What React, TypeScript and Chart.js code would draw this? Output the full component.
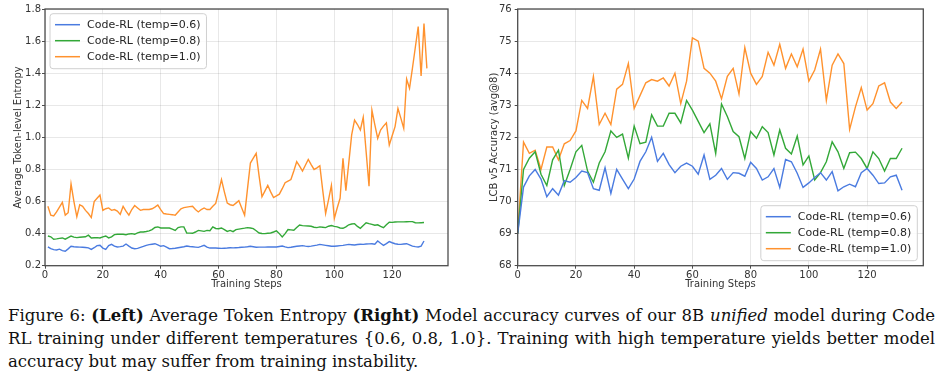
import React, { useEffect, useRef } from 'react';
import { Chart, registerables } from 'chart.js';

Chart.register(...registerables);

// ---------- data ----------
const seriesLabels = ['Code-RL (temp=0.6)', 'Code-RL (temp=0.8)', 'Code-RL (temp=1.0)'];
const seriesColors = ['#4a7be0', '#33a838', '#ff922e'];

// Left panel: training steps 1..132
const leftSteps = Array.from({ length: 132 }, (_, i) => i + 1);
const leftXTicks = [0, 20, 40, 60, 80, 100, 120];
const leftYTicks = [0.2, 0.4, 0.6, 0.8, 1.0, 1.2, 1.4, 1.6, 1.8];

const leftBlue = [
  0.317, 0.306, 0.3, 0.298, 0.303, 0.294, 0.29, 0.305, 0.321, 0.318,
  0.317, 0.316, 0.315, 0.313, 0.311, 0.302, 0.312, 0.325, 0.327, 0.31,
  0.302, 0.325, 0.333, 0.322, 0.317, 0.319, 0.322, 0.335, 0.322, 0.31,
  0.306, 0.308, 0.314, 0.32, 0.327, 0.331, 0.334, 0.337, 0.33, 0.321,
  0.325, 0.316, 0.306, 0.307, 0.309, 0.312, 0.315, 0.318, 0.323, 0.32,
  0.318, 0.316, 0.314, 0.32, 0.327, 0.316, 0.31, 0.311, 0.31, 0.309,
  0.308, 0.309, 0.31, 0.312, 0.311, 0.312, 0.313, 0.315, 0.316, 0.318,
  0.321, 0.318, 0.315, 0.316, 0.316, 0.316, 0.317, 0.317, 0.317, 0.317,
  0.32, 0.323, 0.317, 0.3125, 0.315, 0.318, 0.321, 0.323, 0.325, 0.322,
  0.32, 0.322, 0.325, 0.328, 0.333, 0.33, 0.327, 0.324, 0.321, 0.321,
  0.323, 0.325, 0.327, 0.33, 0.333, 0.331, 0.329, 0.332, 0.334, 0.333,
  0.335, 0.336, 0.337, 0.334, 0.354, 0.34, 0.327, 0.338, 0.35, 0.343,
  0.337, 0.334, 0.333, 0.335, 0.337, 0.33, 0.322, 0.319, 0.317, 0.322,
  0.354,
];

const leftGreen = [
  0.385, 0.38, 0.365, 0.367, 0.37, 0.373, 0.365, 0.375, 0.385, 0.378,
  0.375, 0.377, 0.379, 0.38, 0.39, 0.373, 0.374, 0.375, 0.373, 0.38,
  0.385, 0.373, 0.38, 0.394, 0.396, 0.396, 0.396, 0.393, 0.398, 0.4,
  0.396, 0.405, 0.41, 0.41, 0.413, 0.417, 0.425, 0.438, 0.442, 0.435,
  0.435, 0.435, 0.435, 0.428, 0.42, 0.438, 0.442, 0.442, 0.404, 0.403,
  0.402, 0.41, 0.42, 0.417, 0.414, 0.42, 0.418, 0.442, 0.432, 0.43,
  0.435, 0.425, 0.414, 0.42, 0.412, 0.425, 0.428, 0.431, 0.434, 0.4375,
  0.435, 0.431, 0.418, 0.404, 0.401, 0.4, 0.402, 0.404, 0.41, 0.417,
  0.4, 0.379, 0.4, 0.425, 0.423, 0.421, 0.438, 0.454, 0.45, 0.448,
  0.447, 0.446, 0.44, 0.4375, 0.442, 0.44, 0.4375, 0.446, 0.45, 0.445,
  0.442, 0.435, 0.433, 0.442, 0.455, 0.46, 0.462, 0.445, 0.433, 0.45,
  0.467, 0.462, 0.458, 0.452, 0.455, 0.445, 0.437, 0.455, 0.471, 0.47,
  0.472, 0.473, 0.473, 0.473, 0.474, 0.475, 0.475, 0.468, 0.467, 0.468,
  0.469,
];

const leftOrange = [
  0.57, 0.515, 0.51, 0.535, 0.565, 0.595, 0.515, 0.53, 0.71, 0.6,
  0.505, 0.58, 0.57, 0.545, 0.525, 0.5, 0.6, 0.62, 0.64, 0.545,
  0.555, 0.56, 0.545, 0.55, 0.54, 0.52, 0.57, 0.54, 0.515, 0.55,
  0.575, 0.56, 0.545, 0.55, 0.55, 0.55, 0.555, 0.565, 0.578, 0.55,
  0.525, 0.522, 0.52, 0.518, 0.515, 0.535, 0.555, 0.562, 0.565, 0.568,
  0.57, 0.55, 0.535, 0.55, 0.56, 0.55, 0.55, 0.57, 0.588, 0.66,
  0.737, 0.66, 0.59, 0.58, 0.575, 0.59, 0.605, 0.56, 0.515, 0.68,
  0.84, 0.87, 0.9, 0.76, 0.63, 0.665, 0.7, 0.66, 0.625, 0.635,
  0.646, 0.68, 0.717, 0.727, 0.737, 0.79, 0.848, 0.82, 0.79, 0.826,
  0.862, 0.83, 0.8, 0.81, 0.823, 0.67, 0.525, 0.61, 0.7, 0.494,
  0.56, 0.62, 0.87, 0.667, 0.84, 1.015, 1.108, 1.08, 1.046, 1.125,
  0.91, 0.696, 1.17, 1.08, 0.994, 1.046, 1.07, 1.09, 0.952, 1.01,
  1.067, 1.18, 1.12, 1.056, 1.363, 1.306, 1.43, 1.56, 1.69, 1.383,
  1.71, 1.43,
];

// Right panel: training steps 0..132 every 2
const rightSteps = Array.from({ length: 67 }, (_, i) => i * 2);
const rightXTicks = [0, 20, 40, 60, 80, 100, 120];
const rightYTicks = [68, 69, 70, 71, 72, 73, 74, 75, 76];

const rightBlue = [
  69.0, 70.45, 70.8, 71.0, 70.7, 70.15, 70.4, 70.2, 70.65, 70.6,
  70.75, 70.95, 70.9, 70.4, 70.35, 71.05, 70.25, 71.0, 70.7, 70.4,
  70.7, 71.25, 71.55, 72.0, 71.25, 71.5, 71.15, 70.9, 71.1, 71.2,
  71.1, 70.85, 71.45, 70.69, 70.82, 71.03, 70.69, 70.9, 70.88, 70.79,
  71.22, 71.03, 70.67, 70.77, 71.03, 70.44, 71.31, 71.24, 70.88, 70.44,
  70.58, 70.75, 70.9, 70.67, 70.93, 70.33, 70.46, 70.54, 70.46, 70.9,
  71.03, 70.82, 70.56, 70.58, 70.77, 70.82, 70.35,
];

const rightGreen = [
  69.0, 71.0, 71.35, 71.55, 70.85, 70.5, 71.3, 71.6, 70.5, 71.0,
  71.55, 71.75, 70.95, 70.6, 71.2, 71.55, 72.2, 72.0, 72.1, 71.35,
  72.35, 71.8, 71.85, 72.7, 72.35, 72.35, 72.75, 72.75, 72.45, 73.15,
  72.85, 72.5, 72.15, 72.42, 71.5, 73.04, 72.65, 72.18, 72.02, 71.34,
  72.18, 71.97, 72.33, 72.15, 71.45, 72.23, 71.66, 71.48, 72.04, 71.14,
  71.42, 70.67, 70.9, 71.24, 71.86, 71.55, 71.03, 71.52, 71.54, 71.34,
  71.03, 71.55, 71.34, 70.95, 71.34, 71.34, 71.66,
];

const rightOrange = [
  69.0, 71.85, 71.5, 71.6, 71.0, 71.7, 71.7, 71.3, 71.8, 71.9,
  72.2, 73.15, 72.9, 73.9, 72.4, 72.75, 72.4, 73.5, 73.65, 74.3,
  72.9, 73.3, 73.7, 73.8, 73.75, 73.85, 73.6, 74.0, 73.05, 73.75,
  75.1, 75.0, 74.15, 74.0, 73.75, 73.2, 73.9, 74.15, 73.35, 74.8,
  74.0, 73.65, 73.9, 74.65, 74.25, 74.9, 74.15, 74.6, 74.2, 74.75,
  73.75, 74.1, 74.75, 73.15, 74.25, 74.6, 74.3, 72.25, 72.95, 73.55,
  72.85, 73.05, 73.6, 73.7, 73.1, 72.9, 73.1,
];

// ---------- plugins ----------
const framePlugin = {
  id: 'frame',
  afterDatasetsDraw(chart: any) {
    const { ctx, chartArea: a } = chart;
    ctx.save();
    ctx.strokeStyle = '#4d4d4d';
    ctx.lineWidth = 1.3;
    ctx.strokeRect(a.left, a.top, a.right - a.left, a.bottom - a.top);
    ctx.restore();
  },
};

const insideLegendPlugin = {
  id: 'insideLegend',
  afterDraw(chart: any, _args: any, opts: any) {
    const { ctx, chartArea: a } = chart;
    const ds = chart.data.datasets;
    ctx.save();
    ctx.font = '11px "DejaVu Sans"';
    const lineLen = 25;
    const gap = 7;
    const padL = 5;
    const padR = 6;
    const rowH = 16;
    const boxH = 55;
    const textW = Math.max(...ds.map((d: any) => ctx.measureText(d.label).width));
    const boxW = padL + lineLen + gap + textW + padR;
    let x0: number;
    let y0: number;
    if (opts.corner === 'tl') {
      x0 = a.left + 5;
      y0 = a.top + 4.7;
    } else {
      x0 = a.right - 6 - boxW;
      y0 = a.bottom - 5 - boxH;
    }
    const r = 3;
    ctx.beginPath();
    ctx.moveTo(x0 + r, y0);
    ctx.lineTo(x0 + boxW - r, y0);
    ctx.arcTo(x0 + boxW, y0, x0 + boxW, y0 + r, r);
    ctx.lineTo(x0 + boxW, y0 + boxH - r);
    ctx.arcTo(x0 + boxW, y0 + boxH, x0 + boxW - r, y0 + boxH, r);
    ctx.lineTo(x0 + r, y0 + boxH);
    ctx.arcTo(x0, y0 + boxH, x0, y0 + boxH - r, r);
    ctx.lineTo(x0, y0 + r);
    ctx.arcTo(x0, y0, x0 + r, y0, r);
    ctx.closePath();
    ctx.fillStyle = 'rgba(255,255,255,0.82)';
    ctx.fill();
    ctx.strokeStyle = '#d0d0d0';
    ctx.lineWidth = 1;
    ctx.stroke();
    ds.forEach((d: any, i: number) => {
      const cy = y0 + 11 + i * rowH;
      ctx.beginPath();
      ctx.strokeStyle = d.borderColor;
      ctx.lineWidth = 1.5;
      ctx.moveTo(x0 + padL, cy);
      ctx.lineTo(x0 + padL + lineLen, cy);
      ctx.stroke();
      ctx.fillStyle = '#262626';
      ctx.textBaseline = 'middle';
      ctx.textAlign = 'left';
      ctx.fillText(d.label, x0 + padL + lineLen + gap, cy + 0.5);
    });
    ctx.restore();
  },
};

// ---------- chart builder ----------
type PanelSpec = {
  steps: number[][];
  values: number[][];
  yTicks: number[];
  xTicks: number[];
  yTitle: string;
  yDecimals: number;
  yWidth: number;
  yTitlePad: number;
  yLabelPad: number;
  padRight: number;
  corner: string;
};

function buildConfig(p: PanelSpec): any {
  const datasets = p.values.map((vals, i) => ({
    label: seriesLabels[i],
    data: vals.map((v, j) => ({ x: p.steps[i][j], y: v })),
    borderColor: seriesColors[i],
    backgroundColor: seriesColors[i],
    borderWidth: 1.4,
    pointRadius: 0,
    tension: 0,
    fill: false,
  }));
  const gridColor = 'rgba(0,0,0,0.09)';
  return {
    type: 'line',
    data: { datasets },
    options: {
      animation: false,
      responsive: false,
      maintainAspectRatio: false,
      layout: { padding: { left: 0, right: p.padRight, top: 9, bottom: 0 } },
      plugins: {
        legend: { display: false },
        tooltip: { enabled: false },
        insideLegend: { corner: p.corner },
      },
      scales: {
        x: {
          type: 'linear',
          min: 0,
          max: 139.3,
          afterBuildTicks: (scale: any) => {
            scale.ticks = p.xTicks.map((v) => ({ value: v }));
          },
          afterFit: (scale: any) => {
            scale.height = 24.3;
          },
          ticks: {
            color: '#333',
            font: { size: 10 },
            padding: 1,
            maxRotation: 0,
            autoSkip: false,
          },
          grid: { color: gridColor, tickColor: '#4d4d4d', tickLength: 3 },
          border: { display: false },
          title: {
            display: true,
            text: 'Training Steps',
            color: '#333',
            font: { size: 10 },
            padding: { top: 0, bottom: 0 },
          },
        },
        y: {
          type: 'linear',
          min: p.yTicks[0],
          max: p.yTicks[p.yTicks.length - 1],
          afterBuildTicks: (scale: any) => {
            scale.ticks = p.yTicks.map((v) => ({ value: v }));
          },
          afterFit: (scale: any) => {
            scale.width = p.yWidth;
          },
          ticks: {
            color: '#333',
            font: { size: 10 },
            padding: p.yLabelPad,
            autoSkip: false,
            callback: (v: number) => Number(v).toFixed(p.yDecimals),
          },
          grid: { color: gridColor, tickColor: '#4d4d4d', tickLength: 3 },
          border: { display: false },
          title: {
            display: true,
            text: p.yTitle,
            color: '#333',
            font: { size: 10 },
            padding: { top: p.yTitlePad, bottom: 0 },
          },
        },
      },
    },
    plugins: [framePlugin, insideLegendPlugin],
  };
}

function Panel({ spec, left }: { spec: PanelSpec; left: number }) {
  const ref = useRef<HTMLCanvasElement | null>(null);
  useEffect(() => {
    if (!ref.current) return;
    const chart = new Chart(ref.current, buildConfig(spec));
    return () => chart.destroy();
  }, [spec]);
  return (
    <canvas
      ref={ref}
      width={470}
      height={290}
      style={{ position: 'absolute', left, top: 0, width: 470, height: 290 }}
    />
  );
}

const leftSpec: PanelSpec = {
  steps: [leftSteps.slice(0, leftBlue.length), leftSteps.slice(0, leftGreen.length), leftSteps],
  values: [leftBlue, leftGreen, leftOrange],
  yTicks: leftYTicks,
  xTicks: leftXTicks,
  yTitle: 'Average Token-level Entropy',
  yDecimals: 1,
  yWidth: 45,
  yTitlePad: 12.5,
  yLabelPad: 1,
  padRight: 22,
  corner: 'tl',
};

const rightSpec: PanelSpec = {
  steps: [rightSteps, rightSteps, rightSteps],
  values: [rightBlue, rightGreen, rightOrange],
  yTicks: rightYTicks,
  xTicks: rightXTicks,
  yTitle: 'LCB v5 Accuracy (avg@8)',
  yDecimals: 0,
  yWidth: 47.7,
  yTitlePad: 18,
  yLabelPad: 3,
  padRight: 16.7,
  corner: 'br',
};

Chart.defaults.font.family = '"DejaVu Sans", sans-serif';

export default function App() {
  const lineStyle: React.CSSProperties = {
    whiteSpace: 'nowrap',
    height: 23,
    lineHeight: '23px',
  };
  return (
    <div
      style={{
        position: 'absolute',
        left: 0,
        top: 0,
        width: 940,
        height: 388,
        background: '#ffffff',
        overflow: 'hidden',
      }}
    >
      <Panel spec={leftSpec} left={0} />
      <Panel spec={rightSpec} left={470} />
      <div
        style={{
          position: 'absolute',
          left: 8,
          top: 303.5,
          width: 927,
          fontFamily: '"DejaVu Serif", serif',
          fontSize: 16.5,
          color: '#111',
        }}
      >
        <div style={{ ...lineStyle, textAlign: 'justify', textAlignLast: 'justify' }}>
          Figure 6: <b>(Left)</b> Average Token Entropy <b>(Right)</b> Model accuracy curves of our 8B{' '}
          <i>unified</i> model during Code
        </div>
        <div style={{ ...lineStyle, textAlign: 'justify', textAlignLast: 'justify' }}>
          RL training under different temperatures {'{0.6, 0.8, 1.0}'}. Training with high temperature yields better model
        </div>
        <div style={{ ...lineStyle }}>accuracy but may suffer from training instability.</div>
      </div>
    </div>
  );
}
